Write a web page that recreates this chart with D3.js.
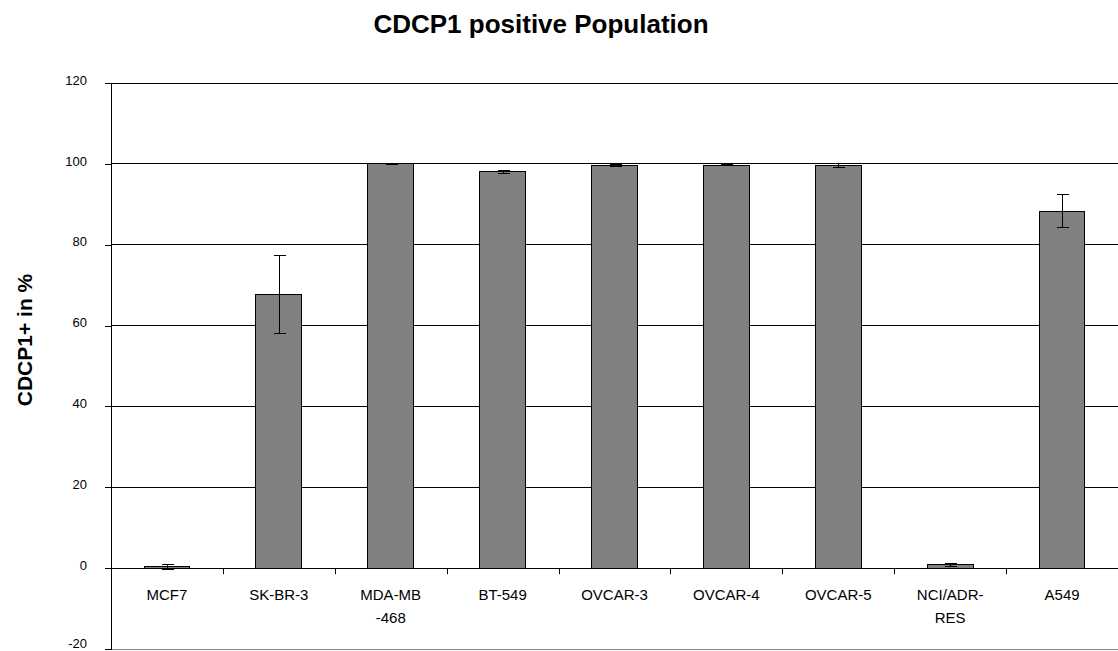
<!DOCTYPE html>
<html><head><meta charset="utf-8">
<script src="https://cdn.jsdelivr.net/npm/d3@7"></script>
<style>body{margin:0;background:#fff;} text{font-family:"Liberation Sans",Arial,sans-serif;}</style>
</head><body>
<svg id="c" width="1118" height="651"></svg>
<script>
const categories = [["MCF7"],["SK-BR-3"],["MDA-MB","-468"],["BT-549"],["OVCAR-3"],["OVCAR-4"],["OVCAR-5"],["NCI/ADR-","RES"],["A549"]];
const values = [0.3, 67.7, 100, 98.0, 99.6, 99.7, 99.6, 0.8, 88.3];
const errors = [0.6, 9.6, 0.1, 0.3, 0.3, 0.2, 0.4, 0.3, 4.1];
const yTicks = [-20, 0, 20, 40, 60, 80, 100, 120];
const title = "CDCP1 positive Population";
const yLabel = "CDCP1+ in %";

const svg = d3.select("#c");
const L = 111, R = 1118, T = 83, B = 649;
const y = d3.scaleLinear().domain([-20, 120]).range([B, T]);
const x = d3.scaleBand().domain(d3.range(categories.length)).range([L, R]).paddingInner(0.59).paddingOuter(0.295);
const xb = d3.scaleBand().domain(d3.range(categories.length)).range([L, R]);

// gridlines
svg.append("g").selectAll("line").data(yTicks.filter(t => t !== 0 && t !== -20)).join("line")
  .attr("x1", L).attr("x2", R).attr("y1", d => y(d)).attr("y2", d => y(d))
  .attr("stroke", "#000").attr("stroke-width", 1).attr("shape-rendering", "crispEdges");
svg.append("line").attr("x1", L).attr("x2", R).attr("y1", y(-20)).attr("y2", y(-20))
  .attr("stroke", "#808080").attr("stroke-width", 1).attr("shape-rendering", "crispEdges");

// bars
svg.append("g").selectAll("rect").data(values).join("rect")
  .attr("x", (d, i) => x(i)).attr("width", x.bandwidth())
  .attr("y", d => y(Math.max(0, d))).attr("height", d => Math.abs(y(d) - y(0)))
  .attr("fill", "#808080").attr("stroke", "#000").attr("stroke-width", 1).attr("shape-rendering", "crispEdges");

// error bars
const eg = svg.append("g").attr("stroke", "#000").attr("stroke-width", 1).attr("shape-rendering", "crispEdges");
values.forEach((v, i) => {
  const cx = Math.round(x(i) + x.bandwidth() / 2) + 0.5;
  eg.append("line").attr("x1", cx).attr("x2", cx).attr("y1", y(v + errors[i])).attr("y2", y(v - errors[i]));
  [v + errors[i], v - errors[i]].forEach(e => eg.append("line").attr("x1", cx - 6).attr("x2", cx + 6).attr("y1", y(e)).attr("y2", y(e)));
});

// y axis
const yAxis = d3.axisLeft(y).tickValues(yTicks).tickSize(6).tickPadding(18).tickFormat(d => String(d));
const ga = svg.append("g").attr("transform", `translate(${L},0)`).call(yAxis);
ga.select(".domain").attr("stroke", "#000").attr("d", `M-6,${T}H0V${B}H-6`);
ga.selectAll("text").attr("font-size", 13).attr("fill", "#000").attr("dy", "0.32em")
  .attr("y", d => d === -20 ? -6 : -3).attr("font-family", "Liberation Sans, Arial, sans-serif");
ga.selectAll("line").attr("shape-rendering", "crispEdges");
ga.select(".domain").attr("shape-rendering", "crispEdges");

// x axis at 0
const xAxis = d3.axisBottom(xb).tickSize(0).tickFormat("");
const gx = svg.append("g").attr("transform", `translate(0,${y(0)})`).call(xAxis);
gx.select(".domain").attr("d", `M${L},0H${R}`).attr("stroke", "#000").attr("shape-rendering", "crispEdges");
gx.selectAll("line").remove();
svg.append("g").selectAll("line").data(d3.range(1, categories.length)).join("line")
  .attr("x1", i => Math.round(xb(i)) + 0.5).attr("x2", i => Math.round(xb(i)) + 0.5)
  .attr("y1", y(0)).attr("y2", y(0) + 6).attr("stroke", "#000");

// category labels
categories.forEach((lines, i) => {
  const cx = xb(i) + xb.bandwidth() / 2;
  lines.forEach((s, j) => svg.append("text").attr("x", cx).attr("y", 600 + j * 23)
    .attr("text-anchor", "middle").attr("font-size", 15).attr("fill", "#000").text(s));
});

// title
svg.append("text").attr("x", 541).attr("y", 33).attr("text-anchor", "middle")
  .attr("font-size", 26).attr("font-weight", "bold").text(title);
// y label
svg.append("text").attr("transform", `translate(32,340) rotate(-90)`).attr("text-anchor", "middle")
  .attr("font-size", 21).attr("font-weight", "bold").text(yLabel);
</script>
</body></html>
